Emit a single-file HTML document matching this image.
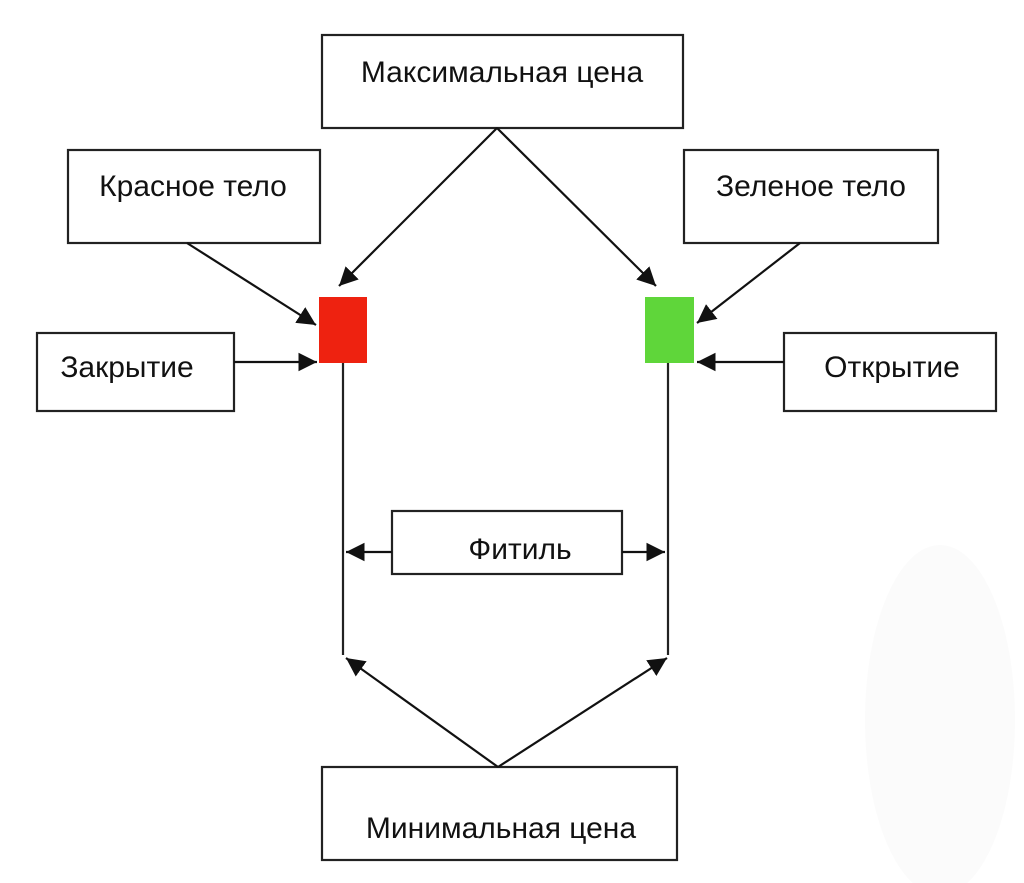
<!DOCTYPE html>
<html><head><meta charset="utf-8"><style>
html,body{margin:0;padding:0;background:#fff;}
svg{display:block}
text{font-family:"Liberation Sans","DejaVu Sans",sans-serif;font-size:30px;fill:#111;}
</style></head><body>
<svg width="1024" height="883" viewBox="0 0 1024 883" xmlns="http://www.w3.org/2000/svg">
<defs>
<marker id="a" viewBox="0 0 10 10" refX="10" refY="5" markerWidth="8.5" markerHeight="8.5" orient="auto" markerUnits="strokeWidth">
<path d="M0,0 L10,5 L0,10 z" fill="#111"/></marker>
</defs>
<ellipse cx="940" cy="720" rx="75" ry="175" fill="#fbfbfb"/>
<g fill="none" stroke="#222" stroke-width="2.2">
<rect x="322" y="35" width="361" height="93"/>
<rect x="68" y="150" width="252" height="93"/>
<rect x="684" y="150" width="254" height="93"/>
<rect x="37" y="333" width="197" height="78"/>
<rect x="784" y="333" width="212" height="78"/>
<rect x="392" y="511" width="230" height="63"/>
<rect x="322" y="767" width="355" height="93"/>
<line x1="343" y1="363" x2="343" y2="655"/>
<line x1="668" y1="363" x2="668" y2="655"/>
</g>
<rect x="319" y="297" width="48" height="66" fill="#ee2210"/>
<rect x="645" y="297" width="49" height="66" fill="#5fd63a"/>
<g stroke="#111" stroke-width="2.2" marker-end="url(#a)">
<line x1="497" y1="128" x2="339" y2="286"/>
<line x1="497" y1="128" x2="656" y2="286"/>
<line x1="187" y1="243" x2="316" y2="325"/>
<line x1="800" y1="243" x2="697" y2="323"/>
<line x1="234" y1="362" x2="317" y2="362"/>
<line x1="784" y1="362" x2="697" y2="362"/>
<line x1="392" y1="552" x2="346" y2="552"/>
<line x1="622" y1="552" x2="665" y2="552"/>
<line x1="498" y1="767" x2="346" y2="658"/>
<line x1="498" y1="767" x2="667" y2="658"/>
</g>
<text x="502" y="82" text-anchor="middle">Максимальная цена</text>
<text x="193" y="196" text-anchor="middle">Красное тело</text>
<text x="811" y="196" text-anchor="middle">Зеленое тело</text>
<text x="127" y="377" text-anchor="middle">Закрытие</text>
<text x="892" y="377" text-anchor="middle">Открытие</text>
<text x="520" y="559" text-anchor="middle">Фитиль</text>
<text x="501" y="838" text-anchor="middle">Минимальная цена</text>
</svg>
</body></html>
